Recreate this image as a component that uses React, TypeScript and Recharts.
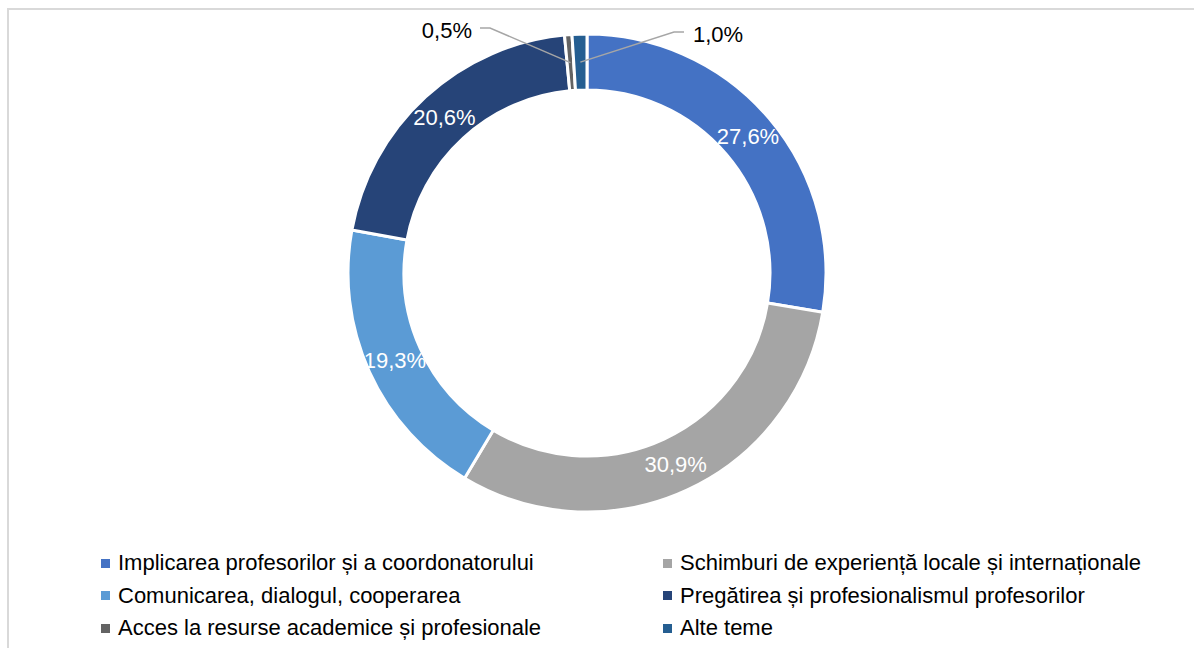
import { PieChart, Pie, Cell } from 'recharts';

const categories = [
  'Implicarea profesorilor și a coordonatorului',
  'Schimburi de experiență locale și internaționale',
  'Comunicarea, dialogul, cooperarea',
  'Pregătirea și profesionalismul profesorilor',
  'Acces la resurse academice și profesionale',
  'Alte teme',
];
const shares = [27.6, 30.9, 19.3, 20.6, 0.5, 1.0];
const colors = ['#4472C4', '#A5A5A5', '#5B9BD5', '#264478', '#636363', '#255E91'];

// small slices get their label outside, with a leader line
const outsideLabels: Record<number, { dx: number; dy: number; side: 'left' | 'right' }> = {
  4: { dx: -97, dy: -245, side: 'left' },
  5: { dx: 87, dy: -241, side: 'right' },
};

const FONT = '"Liberation Sans", Arial, sans-serif';
const RAD = Math.PI / 180;

const chartData = categories.map((name, i) => ({ name, value: shares[i] }));

const fmt = (v: number) => `${v.toFixed(1).replace('.', ',')}%`;

const renderLabel = (props: any) => {
  const { cx, cy, midAngle, innerRadius, outerRadius, value, index } = props;
  const r = (innerRadius + outerRadius) / 2;
  const x = cx + r * Math.cos(-midAngle * RAD);
  const y = cy + r * Math.sin(-midAngle * RAD);
  const out = outsideLabels[index];
  if (out) {
    const ex = cx + out.dx;
    const ey = cy + out.dy;
    const tx = out.side === 'left' ? ex - 10 : ex + 10;
    return (
      <g>
        <polyline
          points={`${x},${y} ${ex},${ey} ${tx},${ey}`}
          fill="none"
          stroke="#A6A6A6"
          strokeWidth={1.5}
        />
        <text
          x={out.side === 'left' ? tx - 8 : tx + 9}
          y={ey + 2}
          fill="#000"
          fontSize={22}
          fontFamily={FONT}
          textAnchor={out.side === 'left' ? 'end' : 'start'}
          dominantBaseline="central"
        >
          {fmt(value)}
        </text>
      </g>
    );
  }
  return (
    <text
      x={x}
      y={y}
      fill="#fff"
      fontSize={22}
      fontFamily={FONT}
      textAnchor="middle"
      dominantBaseline="central"
    >
      {fmt(value)}
    </text>
  );
};

export default function App() {
  return (
    <div style={{ position: 'absolute', left: 0, top: 0, width: 1194, height: 648, background: '#fff', overflow: 'hidden' }}>
      <div
        style={{
          position: 'absolute',
          left: 7,
          top: 8,
          width: 1190,
          height: 645,
          borderTop: '2px solid #D9D9D9',
          borderLeft: '2px solid #D9D9D9',
        }}
      />
      <div style={{ position: 'absolute', left: 0, top: 0 }}>
        <PieChart width={1194} height={648} margin={{ top: 0, right: 0, bottom: 0, left: 0 }}>
          <Pie
            data={chartData}
            dataKey="value"
            nameKey="name"
            cx={587}
            cy={273}
            innerRadius={183}
            outerRadius={239}
            startAngle={90}
            endAngle={-270}
            stroke="#fff"
            strokeWidth={3}
            label={renderLabel}
            labelLine={false}
            isAnimationActive={false}
          >
            {chartData.map((d, i) => (
              <Cell key={d.name} fill={colors[i]} />
            ))}
          </Pie>
        </PieChart>
      </div>
      {categories.map((name, i) => {
        const col = i % 2;
        const row = Math.floor(i / 2);
        const left = col === 0 ? 101 : 663;
        const cyRow = 563 + row * 32.5;
        return (
          <div
            key={name}
            style={{
              position: 'absolute',
              left,
              top: cyRow - 15,
              height: 30,
              display: 'flex',
              alignItems: 'center',
              fontFamily: FONT,
              fontSize: 22,
              color: '#000',
              whiteSpace: 'nowrap',
            }}
          >
            <span style={{ display: 'inline-block', width: 9, height: 9, background: colors[i], marginRight: 8 }} />
            <span>{name}</span>
          </div>
        );
      })}
    </div>
  );
}
